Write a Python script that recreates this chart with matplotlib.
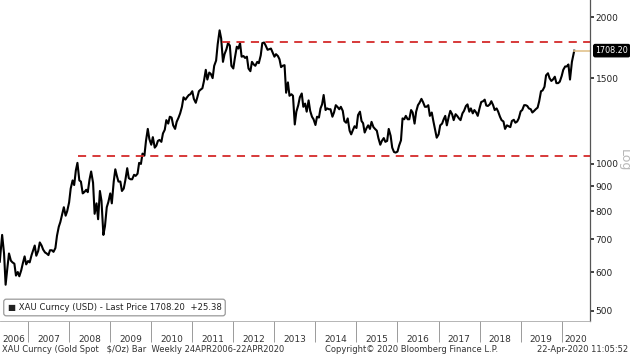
import pandas as pd
import numpy as np
import matplotlib
matplotlib.use("Agg")
import matplotlib.pyplot as plt
import matplotlib.dates as mdates
import matplotlib.transforms as mtrans

### Gold spot (XAU, $/oz): first point, then mid-month / month-end closes
first_date = "2006-04-24"
first_price = 630
gold_2006 = [715, 655, 565, 613, 655, 633, 628, 624, 590, 600, 588, 605, 625, 646, 622, 632]
gold_2007 = [628, 650, 665, 680, 648, 663, 690, 680, 667, 658, 655, 650,
             665, 665, 660, 672, 712, 743, 760, 790, 815, 783, 800, 834]
gold_2008 = [890, 925, 905, 970, 1005, 925, 920, 870, 875, 885, 875, 930,
             965, 915, 790, 830, 770, 880, 840, 715, 745, 815, 835, 870]
gold_2009 = [830, 920, 975, 945, 920, 920, 880, 890, 925, 980, 935, 930,
             930, 950, 945, 955, 1005, 1000, 1050, 1040, 1115, 1180, 1125, 1095]
gold_2010 = [1135, 1080, 1090, 1115, 1120, 1110, 1155, 1175, 1230, 1210, 1250, 1245,
             1200, 1180, 1220, 1245, 1270, 1310, 1370, 1355, 1370, 1385, 1390, 1410]
gold_2011 = [1360, 1335, 1370, 1410, 1420, 1430, 1480, 1560, 1490, 1540, 1530, 1500,
             1590, 1630, 1760, 1880, 1810, 1620, 1680, 1720, 1770, 1750, 1590, 1570]
gold_2012 = [1650, 1740, 1725, 1770, 1660, 1665, 1650, 1660, 1570, 1550, 1620, 1600,
             1590, 1620, 1610, 1670, 1770, 1775, 1750, 1715, 1720, 1725, 1695, 1660]
gold_2013 = [1680, 1665, 1640, 1580, 1590, 1595, 1400, 1470, 1380, 1390, 1380, 1205,
             1280, 1320, 1370, 1395, 1310, 1330, 1280, 1350, 1285, 1250, 1235, 1202]
gold_2014 = [1250, 1245, 1300, 1325, 1385, 1290, 1300, 1295, 1295, 1250, 1275, 1320,
             1310, 1295, 1310, 1285, 1225, 1215, 1240, 1170, 1150, 1175, 1195, 1185]
gold_2015 = [1260, 1280, 1225, 1212, 1160, 1185, 1200, 1180, 1220, 1190, 1180, 1170,
             1130, 1095, 1115, 1130, 1110, 1115, 1180, 1142, 1080, 1058, 1055, 1060]
gold_2016 = [1090, 1118, 1240, 1235, 1255, 1235, 1235, 1290, 1275, 1210, 1280, 1320,
             1335, 1360, 1340, 1310, 1310, 1320, 1255, 1275, 1225, 1175, 1132, 1150]
gold_2017 = [1200, 1210, 1235, 1255, 1200, 1250, 1285, 1265, 1230, 1265, 1255, 1240,
             1230, 1270, 1285, 1315, 1325, 1280, 1300, 1270, 1290, 1275, 1255, 1303]
gold_2018 = [1340, 1345, 1355, 1318, 1315, 1325, 1345, 1320, 1290, 1300, 1280, 1250,
             1230, 1222, 1180, 1200, 1195, 1190, 1225, 1232, 1215, 1222, 1240, 1282]
gold_2019 = [1290, 1320, 1320, 1315, 1300, 1295, 1275, 1285, 1295, 1305, 1345, 1410,
             1415, 1440, 1520, 1535, 1500, 1480, 1490, 1510, 1465, 1465, 1475, 1515]
gold_2020 = [1560, 1585, 1585, 1600, 1490, 1620, 1680]
last_date = "2020-04-22"
last_price = 1708.20

### Resistance / support levels (red dashed)
levels = [1783, 1036]
level_starts = ["2011-09-26", "2008-03-17"]

ytick_vals = [500, 600, 700, 800, 900, 1000, 1500, 2000]
years = list(range(2006, 2021))

values = ([first_price] + gold_2006 + gold_2007 + gold_2008 + gold_2009 + gold_2010
          + gold_2011 + gold_2012 + gold_2013 + gold_2014 + gold_2015 + gold_2016
          + gold_2017 + gold_2018 + gold_2019 + gold_2020 + [last_price])
dates = ([pd.Timestamp(first_date)]
         + list(pd.date_range("2006-05-15", "2020-04-15", freq="SMS"))
         + [pd.Timestamp(last_date)])

plt.rcParams['font.family'] = ['DejaVu Sans']
fig = plt.figure(figsize=(6.3, 3.57), dpi=100)
ax = fig.add_axes([0, 36 / 357, 590 / 630, 321 / 357])

x0 = pd.Timestamp("2006-04-26")
x1 = pd.Timestamp("2020-09-09")

ax.plot(dates, values, color='black', lw=1.5)
for lev, st in zip(levels, level_starts):
    ax.hlines(lev, pd.Timestamp(st), x1, colors='#d42a2a', linestyles=(0, (4.5, 3.5)), lw=1.3)
ax.plot([pd.Timestamp(last_date), x1], [last_price, last_price], color='#e2c28c', lw=1.2)

ax.set_yscale('log')
ax.set_ylim(476, 2170)
ax.set_xlim(x0, x1)

### y axis on the right
ax.yaxis.tick_right()
ax.set_yticks(ytick_vals)
ax.set_yticklabels([str(v) for v in ytick_vals])
ax.yaxis.set_minor_locator(matplotlib.ticker.NullLocator())
ax.tick_params(axis='y', length=3, width=1.2, color='#222', labelsize=6.5, pad=1, labelcolor='#222')

### year strip: separators at Jan 1, labels centered in each visible year
jan1 = [pd.Timestamp(f"{y}-01-01") for y in years[1:]]
bounds = [mdates.date2num(x0)] + [mdates.date2num(d) for d in jan1] + [mdates.date2num(x1)]
mids = [(a + b) / 2 for a, b in zip(bounds[:-1], bounds[1:])]
ax.set_xticks(jan1)
ax.set_xticklabels([])
ax.set_xticks(mids, minor=True)
ax.set_xticklabels([str(y) for y in years], minor=True)
ax.tick_params(axis='x', which='major', length=15, width=0.7, color='#9a9a9a', direction='out')
ax.tick_params(axis='x', which='minor', length=0, labelsize=6.5, pad=10, labelcolor='#333')

for s in ['left', 'top']:
    ax.spines[s].set_visible(False)
ax.spines['right'].set_color('#555')
ax.spines['right'].set_linewidth(0.9)
ax.spines['bottom'].set_color('#aaa')
ax.spines['bottom'].set_linewidth(0.6)

### last price tag
tr = mtrans.blended_transform_factory(ax.transAxes, ax.transData)
ax.text(1.009, last_price, '1708.20', transform=tr, color='white', fontsize=5.8,
        va='center', ha='left', clip_on=False,
        bbox=dict(boxstyle='round,pad=0.2,rounding_size=0.2', fc='black', ec='black'))

fig.text(624 / 630, 1 - 160 / 357, 'Log', rotation=270, color='#b8b8b8', fontsize=9,
         ha='center', va='center')

### legend box
fig.text(0.012, 1 - 307.5 / 357, '\u25A0 XAU Curncy (USD) - Last Price 1708.20  +25.38',
         fontsize=6.1, va='center', ha='left', color='#222',
         bbox=dict(boxstyle='round,pad=0.45,rounding_size=0.3', fc='white', ec='#9a9a9a', lw=0.9))

### footer
fig.text(0.003, 1 - 350 / 357, 'XAU Curncy (Gold Spot   $/Oz) Bar  Weekly 24APR2006-22APR2020',
         fontsize=6.0, va='center', ha='left', color='#333')
fig.text(325 / 630, 1 - 350 / 357, 'Copyright\u00a9 2020 Bloomberg Finance L.P.',
         fontsize=6.0, va='center', ha='left', color='#333')
fig.text(628 / 630, 1 - 350 / 357, '22-Apr-2020 11:05:52',
         fontsize=6.0, va='center', ha='right', color='#333')

fig.savefig('out.png', dpi=100)
